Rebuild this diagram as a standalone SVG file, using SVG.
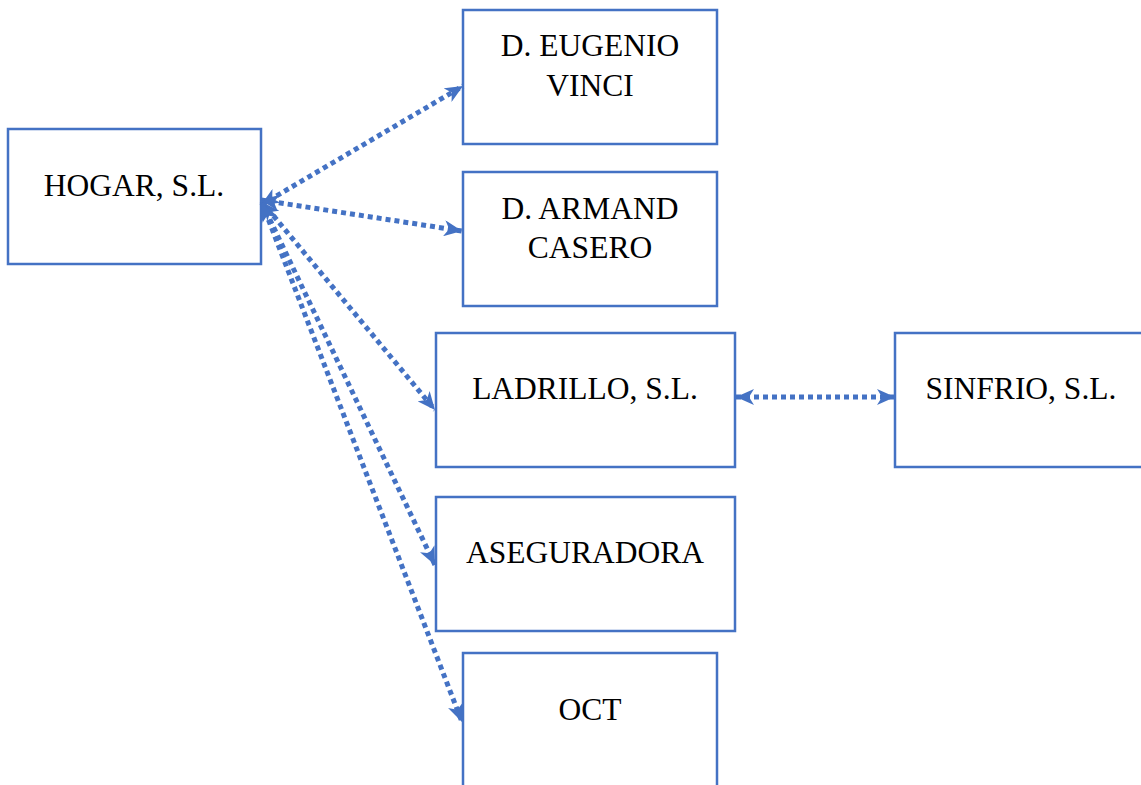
<svg xmlns="http://www.w3.org/2000/svg" width="1141" height="785" viewBox="0 0 1141 785">
<style>
.box{fill:#fff;stroke:#4472C4;stroke-width:2.5}
.lbl{font-family:"Liberation Serif","Times New Roman",serif;font-size:31.5px;fill:#000;text-anchor:middle}
.con{fill:none;stroke:#4472C4;stroke-width:5;stroke-dasharray:5 4;marker-start:url(#ah);marker-end:url(#ah)}
</style>
<defs>
<marker id="ah" markerUnits="userSpaceOnUse" markerWidth="18" markerHeight="16" viewBox="0 0 18 16" refX="18" refY="8" orient="auto-start-reverse">
<path d="M0,0 L18,8 L0,16 L5,8 z" fill="#4472C4"/>
</marker>
</defs>
<rect width="1141" height="785" fill="#fff"/>
<g id="hogar"><rect class="box" x="8" y="129" width="253" height="135"/><text class="lbl" x="134" y="196">HOGAR, S.L.</text></g>
<g id="eugenio"><rect class="box" x="463" y="10" width="254" height="134"/><text class="lbl" x="590" y="56">D. EUGENIO</text><text class="lbl" x="590" y="96">VINCI</text></g>
<g id="armand"><rect class="box" x="463" y="172" width="254" height="134"/><text class="lbl" x="590" y="219">D. ARMAND</text><text class="lbl" x="590" y="258">CASERO</text></g>
<g id="ladrillo"><rect class="box" x="436" y="333" width="299" height="134"/><text class="lbl" x="585" y="399">LADRILLO, S.L.</text></g>
<g id="sinfrio"><rect class="box" x="895" y="333" width="260" height="134"/><text class="lbl" x="1021" y="399">SINFRIO, S.L.</text></g>
<g id="aseguradora"><rect class="box" x="436" y="497" width="299" height="134"/><text class="lbl" x="585" y="563">ASEGURADORA</text></g>
<g id="oct"><rect class="box" x="463" y="653" width="254" height="150"/><text class="lbl" x="590" y="720">OCT</text></g>
<g id="connectors">
<line class="con" x1="261" y1="205" x2="463" y2="86"/>
<line class="con" x1="261" y1="200" x2="462" y2="231"/>
<line class="con" x1="262" y1="202" x2="435" y2="410"/>
<line class="con" x1="262" y1="203" x2="435" y2="565"/>
<line class="con" x1="262" y1="203" x2="462" y2="722"/>
<line class="con" x1="736" y1="397" x2="895" y2="397"/>
</g>
</svg>
